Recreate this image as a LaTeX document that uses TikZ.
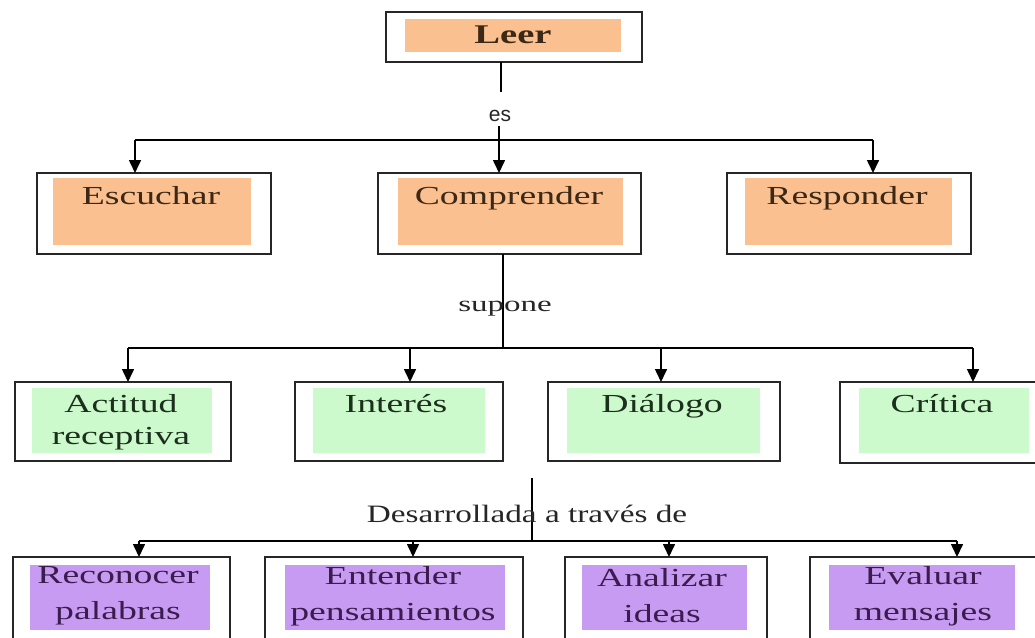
\documentclass[tikz,border=0pt]{standalone}
\usepackage{graphicx}
\usepackage{fontspec}
\setmainfont{Liberation Serif}
\newfontfamily\essans{Liberation Sans}
\usetikzlibrary{arrows.meta}
\definecolor{peach}{RGB}{250,192,144}
\definecolor{mint}{RGB}{204,250,204}
\definecolor{lilac}{RGB}{200,155,242}
\definecolor{brownT}{RGB}{60,40,22}
\definecolor{greenT}{RGB}{28,46,28}
\definecolor{purpT}{RGB}{58,28,78}
\newcommand\hstr[2][1.45]{\scalebox{#1}[1]{#2}}
\begin{document}
\begin{tikzpicture}[x=1pt,y=-1pt,
  box/.style={draw=black!85, line width=1.9pt, fill=white, inner sep=0pt, outer sep=0pt},
  lbl/.style={inner sep=0pt, outer sep=0pt, anchor=base},
  mlbl/.style={inner sep=0pt, outer sep=0pt, anchor=center, align=center},
  con/.style={line width=1.6pt, black},
  arr/.style={con, -{Triangle[length=13pt,width=12pt]}},
  ptxt/.style={text=brownT, font=\fontsize{26}{32}\selectfont},
  gtxt/.style={text=greenT, font=\fontsize{26}{32}\selectfont},
  vtxt/.style={text=purpT, font=\fontsize{26}{36}\selectfont}]
\useasboundingbox (0,0) rectangle (1035,637);
\clip (0,0) rectangle (1035,637);
\fill[white] (0,0) rectangle (1035,637);

% ---------- Leer ----------
\node[box, minimum width=256pt, minimum height=50pt] (leer) at (514,37) {};
\fill[peach] (405,19) rectangle (621,52);
\node[lbl, ptxt, font=\bfseries\fontsize{27}{32}\selectfont] (leert) at (513,43) {\hstr[1.43]{Leer}};

% ---------- es ----------
\node[lbl, text=black!85, font=\essans\fontsize{21}{24}\selectfont] (es) at (500,121) {es};
\coordinate (j1) at (501,92);
\coordinate (j2) at (499,126);
\coordinate (hl) at (135,140);
\coordinate (hr) at (873,140);

% ---------- row 2 ----------
\node[box, minimum width=234pt, minimum height=81pt] (esc) at (154,213.5) {};
\node[box, minimum width=263pt, minimum height=81pt] (comp) at (509.5,213.5) {};
\node[box, minimum width=244pt, minimum height=81pt] (resp) at (849,213.5) {};
\fill[peach] (53,178) rectangle (251,245);
\fill[peach] (398,178) rectangle (623,245);
\fill[peach] (745,178) rectangle (952,245);
\node[lbl, ptxt] (esct) at (151,204) {\hstr{Escuchar}};
\node[lbl, ptxt] (compt) at (509,204) {\hstr{Comprender}};
\node[lbl, ptxt] (respt) at (847,204) {\hstr{Responder}};

\draw[con] (leer.south -| j1) -- (j1);
\draw[con] (hl) -- (hr);
\draw[arr] (j2) -- (j2 |- comp.north);
\draw[arr] (hl) -- (hl |- esc.north);
\draw[arr] (hr) -- (hr |- resp.north);

% ---------- supone ----------
\coordinate (k1) at (503,348);
\coordinate (kl) at (128,348);
\coordinate (kr) at (973,348);
\draw[con] (comp.south -| k1) -- (k1);
\node[lbl, text=black!85, font=\fontsize{22}{26}\selectfont] (sup) at (505,311) {\hstr[1.5]{supone}};

% ---------- row 3 ----------
\node[box, minimum width=216pt, minimum height=79pt] (act) at (123,421.5) {};
\node[box, minimum width=208pt, minimum height=79pt] (int) at (399,421.5) {};
\node[box, minimum width=232pt, minimum height=79pt] (dia) at (664,421.5) {};
\node[box, minimum width=200pt, minimum height=81pt] (cri) at (940,422.5) {};
\fill[mint] (32,388) rectangle (212,453);
\fill[mint] (313,388) rectangle (485,453);
\fill[mint] (567,388) rectangle (760,453);
\fill[mint] (859,388) rectangle (1029,453);
\node[mlbl, gtxt] (actt) at (121,422) {\hstr{Actitud}\\\hstr{receptiva}};
\node[lbl, gtxt] (intt) at (396,412) {\hstr{Interés}};
\node[lbl, gtxt] (diat) at (662,412) {\hstr{Diálogo}};
\node[lbl, gtxt] (crit) at (942,412) {\hstr{Crítica}};

\draw[con] (kl) -- (kr);
\draw[arr] (kl) -- (kl |- act.north);
\draw[arr] (410,348) coordinate (k2) -- (k2 |- int.north);
\draw[arr] (661,348) coordinate (k3) -- (k3 |- dia.north);
\draw[arr] (kr) -- (kr |- cri.north);

% ---------- Desarrollada ----------
\coordinate (d0) at (532,478);
\coordinate (d1) at (532,541);
\coordinate (dl) at (139,541);
\coordinate (dr) at (957,541);
\draw[con] (d0) -- (d1);
\node[lbl, text=black!85, font=\fontsize{25}{30}\selectfont] (des) at (527,522) {\hstr[1.33]{Desarrollada a través de}};

% ---------- row 4 ----------
\node[box, minimum width=217pt, minimum height=93pt] (rec) at (121.5,603.5) {};
\node[box, minimum width=258pt, minimum height=93pt] (ent) at (394,603.5) {};
\node[box, minimum width=202pt, minimum height=93pt] (ana) at (666,603.5) {};
\node[box, minimum width=227pt, minimum height=93pt] (eva) at (923.5,603.5) {};
\fill[lilac] (30,565) rectangle (210,630);
\fill[lilac] (285,565) rectangle (505,630);
\fill[lilac] (582,565) rectangle (747,630);
\fill[lilac] (829,565) rectangle (1015,630);
\node[mlbl, vtxt] (rect) at (118,596) {\hstr[1.45]{Reconocer}\\\hstr[1.45]{palabras}};
\node[mlbl, vtxt] (entt) at (393,596) {\hstr[1.45]{Entender}\\\hstr[1.45]{pensamientos}};
\node[mlbl, vtxt] (anat) at (662,596) {\hstr[1.45]{Analizar}\\\hstr[1.45]{ideas}};
\node[mlbl, vtxt] (evat) at (923,596) {\hstr[1.45]{Evaluar}\\\hstr[1.45]{mensajes}};

\draw[con] (dl) -- (dr);
\draw[arr] (dl) -- (dl |- rec.north);
\draw[arr] (413,541) coordinate (d2) -- (d2 |- ent.north);
\draw[arr] (669,541) coordinate (d3) -- (d3 |- ana.north);
\draw[arr] (dr) -- (dr |- eva.north);
\end{tikzpicture}
\end{document}
